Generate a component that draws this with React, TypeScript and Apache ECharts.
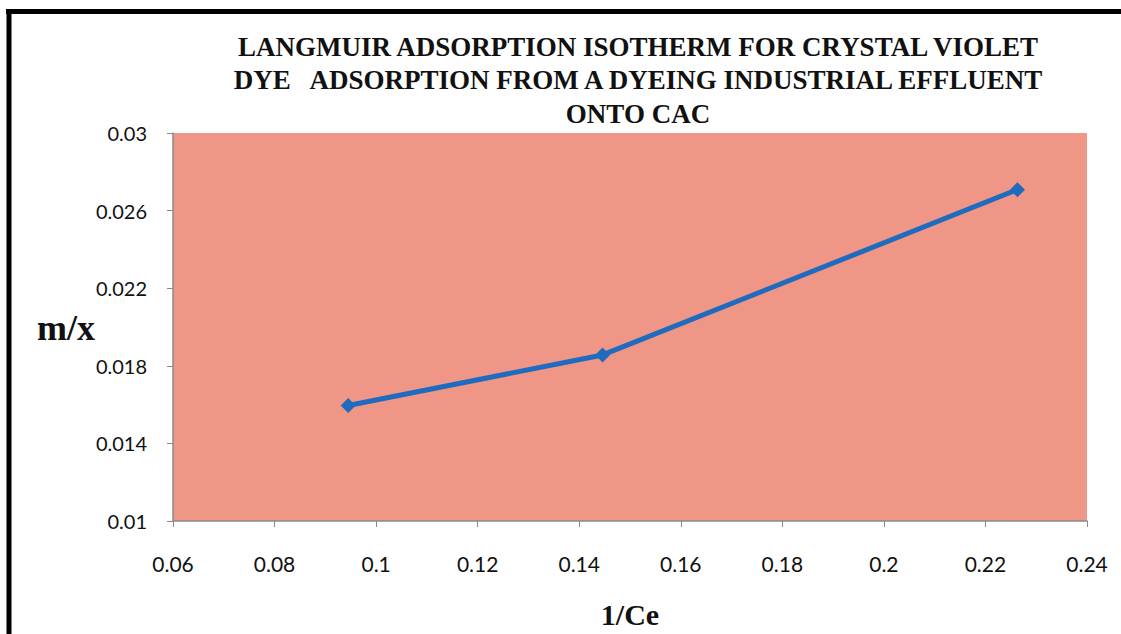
import React, { useEffect, useRef } from "react";
import * as echarts from "echarts";

const xValues = [0.0945, 0.1446, 0.2263];
const yValues = [0.01595, 0.01856, 0.02708];
const titleLines = [
  "LANGMUIR ADSORPTION ISOTHERM FOR CRYSTAL VIOLET",
  "DYE   ADSORPTION FROM A DYEING INDUSTRIAL EFFLUENT",
  "ONTO CAC",
];
const xAxisName = "1/Ce";
const yAxisName = "m/x";

const SERIF = "'Liberation Serif', 'Times New Roman', serif";
const SANS = "Lato, 'Open Sans', sans-serif";

export default function App() {
  const ref = useRef<HTMLDivElement>(null);
  useEffect(() => {
    if (!ref.current) return;
    const chart = echarts.init(ref.current, null, { renderer: "svg" });
    const data = xValues.map((x, i) => [x, yValues[i]]);
    chart.setOption({
      animation: false,
      backgroundColor: "#ffffff",
      title: {
        text: titleLines.join("\n"),
        left: 633,
        textAlign: "center",
        top: 25,
        textStyle: {
          fontFamily: SERIF,
          fontWeight: "bold",
          fontSize: 27,
          lineHeight: 33.5,
          color: "#111",
        },
      },
      grid: { left: 173, top: 133, right: 34, bottom: 111, show: true, backgroundColor: "#F09686", borderWidth: 0 },
      xAxis: {
        type: "value",
        min: 0.06,
        max: 0.24,
        interval: 0.02,
        name: xAxisName,
        nameLocation: "middle",
        nameGap: 78,
        nameTextStyle: { fontFamily: SERIF, fontWeight: "bold", fontSize: 30, color: "#111" },
        axisLine: { show: true, onZero: false, lineStyle: { color: "#8a8a8a", width: 1.5 } },
        axisTick: { show: true, inside: false, length: 6, lineStyle: { color: "#8a8a8a" } },
        axisLabel: { fontFamily: SANS, fontSize: 21, color: "#111", margin: 32, formatter: (v: number) => String(+v.toFixed(2)) },
        splitLine: { show: false },
      },
      yAxis: {
        type: "value",
        min: 0.01,
        max: 0.03,
        interval: 0.004,
        axisLine: { show: true, lineStyle: { color: "#8a8a8a", width: 1.5 } },
        axisTick: { show: true, inside: false, length: 6, lineStyle: { color: "#8a8a8a" } },
        axisLabel: { fontFamily: SANS, fontSize: 20, color: "#111", margin: 26, formatter: (v: number) => String(+v.toFixed(3)) },
        splitLine: { show: false },
      },
      graphic: [
        { type: "line", shape: { x1: 6, y1: 11.5, x2: 1121, y2: 11.5 }, style: { stroke: "#000", lineWidth: 5 } },
        { type: "line", shape: { x1: 9, y1: 9, x2: 9, y2: 634 }, style: { stroke: "#000", lineWidth: 5 } },
        {
          type: "text",
          left: 37,
          top: 310,
          style: { text: yAxisName, font: "bold 36px 'Liberation Serif', serif", fill: "#111" },
        },
      ],
      series: [
        {
          type: "line",
          data,
          symbol: "diamond",
          symbolSize: 15,
          lineStyle: { color: "#1E6BC0", width: 5 },
          itemStyle: { color: "#1E6BC0" },
        },
      ],
    });
    return () => chart.dispose();
  }, []);
  return <div ref={ref} style={{ position: "fixed", left: 0, top: 0, width: 1121, height: 634 }} />;
}
